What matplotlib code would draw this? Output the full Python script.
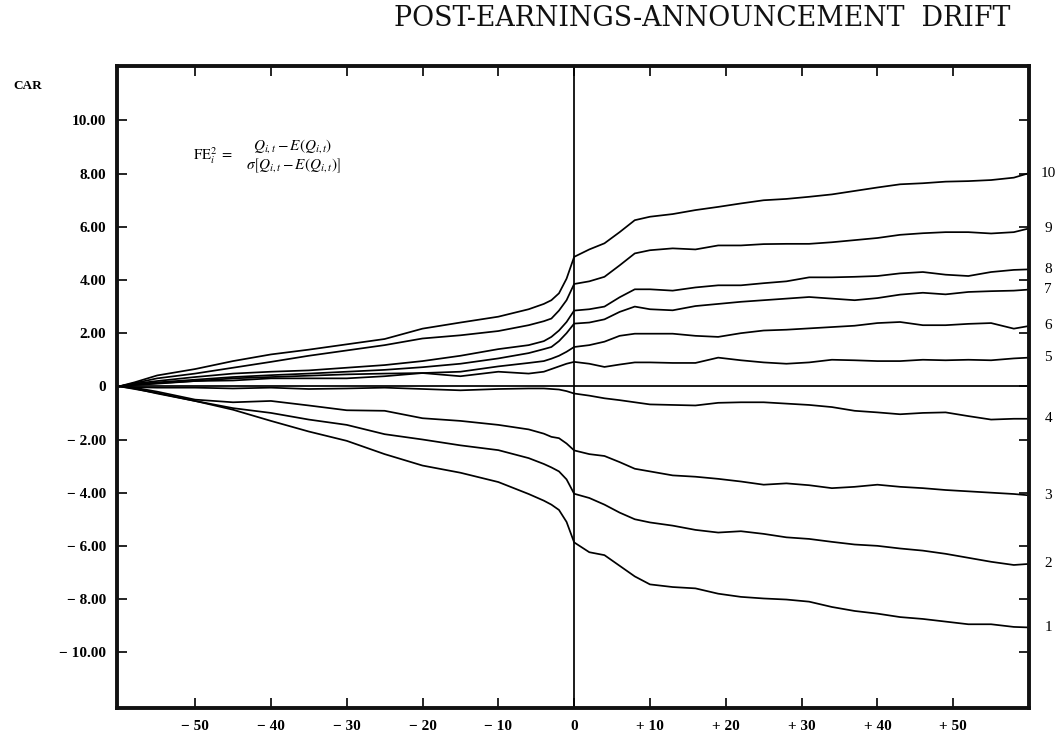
import matplotlib
matplotlib.use("Agg")
import matplotlib.pyplot as plt

# ---------------- data ----------------
days = [-60, -58, -55, -50, -45, -40, -35, -30, -25, -20, -15, -10, -6, -4, -3, -2, -1,
        0, 2, 4, 6, 8, 10, 13, 16, 19, 22, 25, 28, 31, 34, 37, 40, 43, 46, 49, 52, 55, 58, 60]

car_p10 = [0, 0.15, 0.41, 0.65, 0.95, 1.2, 1.38, 1.58, 1.78, 2.17, 2.4, 2.62, 2.9, 3.1, 3.24, 3.5, 4.05,
           4.87, 5.15, 5.38, 5.8, 6.25, 6.38, 6.48, 6.63, 6.75, 6.88, 7.0, 7.05, 7.13, 7.22, 7.35, 7.48,
           7.6, 7.64, 7.7, 7.72, 7.76, 7.85, 8.02]
car_p9 = [0, 0.12, 0.3, 0.48, 0.7, 0.92, 1.15, 1.35, 1.55, 1.8, 1.92, 2.08, 2.3, 2.45, 2.55, 2.85, 3.24,
          3.85, 3.95, 4.12, 4.55, 5.0, 5.12, 5.19, 5.15, 5.3, 5.3, 5.35, 5.36, 5.36, 5.42, 5.5, 5.58,
          5.7, 5.76, 5.8, 5.8, 5.75, 5.8, 5.94]
car_p8 = [0, 0.1, 0.2, 0.35, 0.48, 0.55, 0.6, 0.7, 0.8, 0.95, 1.15, 1.4, 1.55, 1.7, 1.86, 2.1, 2.42,
          2.85, 2.9, 3.0, 3.35, 3.65, 3.65, 3.6, 3.72, 3.8, 3.8, 3.88, 3.95, 4.1, 4.1, 4.12, 4.15,
          4.25, 4.3, 4.2, 4.15, 4.3, 4.38, 4.4]
car_p7 = [0, 0.08, 0.15, 0.25, 0.35, 0.42, 0.48, 0.55, 0.62, 0.72, 0.85, 1.05, 1.25, 1.4, 1.48, 1.7, 2.0,
          2.36, 2.4, 2.52, 2.8, 3.0, 2.9, 2.86, 3.02, 3.1, 3.18, 3.24, 3.3, 3.36, 3.3, 3.24, 3.32,
          3.45, 3.52, 3.46, 3.55, 3.58, 3.6, 3.64]
car_p6 = [0, 0.06, 0.12, 0.2, 0.3, 0.35, 0.4, 0.45, 0.48, 0.5, 0.55, 0.75, 0.88, 0.95, 1.04, 1.15, 1.3,
          1.48, 1.55, 1.68, 1.9, 1.98, 1.98, 1.98, 1.9, 1.86, 2.0, 2.1, 2.13, 2.18, 2.23, 2.28, 2.38,
          2.42, 2.3, 2.3, 2.35, 2.38, 2.17, 2.27]
car_p5 = [0, 0.05, 0.1, 0.2, 0.22, 0.3, 0.3, 0.3, 0.38, 0.5, 0.38, 0.55, 0.48, 0.55, 0.65, 0.75, 0.85,
          0.92, 0.85, 0.73, 0.82, 0.9, 0.9, 0.88, 0.88, 1.08, 0.98, 0.9, 0.85, 0.9, 1.0, 0.98, 0.95,
          0.95, 1.0, 0.98, 1.0, 0.98, 1.05, 1.08]
car_p4 = [0, -0.03, -0.05, -0.05, -0.08, -0.05, -0.1, -0.08, -0.05, -0.1, -0.15, -0.1, -0.08, -0.08, -0.1, -0.12, -0.18,
          -0.27, -0.35, -0.45, -0.52, -0.6, -0.68, -0.7, -0.72, -0.62, -0.6, -0.6, -0.65, -0.7, -0.78, -0.92, -0.98,
          -1.05, -1.0, -0.98, -1.12, -1.25, -1.22, -1.22]
car_p3 = [0, -0.05, -0.2, -0.5, -0.6, -0.55, -0.72, -0.9, -0.92, -1.2, -1.3, -1.45, -1.62, -1.78, -1.9, -1.95, -2.15,
          -2.41, -2.55, -2.62, -2.85, -3.1, -3.2, -3.35, -3.4, -3.48, -3.58, -3.7, -3.65, -3.72, -3.83, -3.78, -3.7,
          -3.78, -3.83, -3.9, -3.95, -4.0, -4.05, -4.1]
car_p2 = [0, -0.08, -0.27, -0.55, -0.82, -1.0, -1.25, -1.45, -1.8, -2.0, -2.22, -2.4, -2.7, -2.92, -3.05, -3.2, -3.5,
          -4.04, -4.2, -4.45, -4.75, -5.0, -5.12, -5.24, -5.4, -5.5, -5.45, -5.55, -5.68, -5.74, -5.85, -5.95, -6.0,
          -6.1, -6.18, -6.3, -6.45, -6.6, -6.72, -6.68]
car_p1 = [0, -0.1, -0.25, -0.55, -0.88, -1.3, -1.7, -2.05, -2.55, -2.98, -3.25, -3.6, -4.05, -4.3, -4.45, -4.65, -5.1,
          -5.87, -6.24, -6.35, -6.75, -7.15, -7.45, -7.55, -7.6, -7.8, -7.92, -7.98, -8.02, -8.1, -8.3, -8.45, -8.55,
          -8.68, -8.75, -8.85, -8.95, -8.95, -9.05, -9.07]

portfolio_labels = ["1", "2", "3", "4", "5", "6", "7", "8", "9", "10"]
series = [car_p1, car_p2, car_p3, car_p4, car_p5, car_p6, car_p7, car_p8, car_p9, car_p10]

x_ticks = [-50, -40, -30, -20, -10, 0, 10, 20, 30, 40, 50]
x_tick_labels = ["\u2212 50", "\u2212 40", "\u2212 30", "\u2212 20", "\u2212 10", "0",
                 "+ 10", "+ 20", "+ 30", "+ 40", "+ 50"]
y_ticks = [10, 8, 6, 4, 2, 0, -2, -4, -6, -8, -10]
y_tick_labels = ["10.00", "8.00", "6.00", "4.00", "2.00", "0", "\u2212 2.00", "\u2212 4.00",
                 "\u2212 6.00", "\u2212 8.00", "\u2212 10.00"]

title_text = "POST-EARNINGS-ANNOUNCEMENT  DRIFT"
ylabel_text = "CAR"

# ---------------- plotting ----------------
plt.rcParams["font.family"] = ["Liberation Serif", "DejaVu Serif"]
plt.rcParams["mathtext.fontset"] = "stix"

W, H = 1060, 734
fig = plt.figure(figsize=(W / 100, H / 100), dpi=100)
left, right, top, bottom = 117, 1029, 66, 708
ax = fig.add_axes([left / W, 1 - bottom / H, (right - left) / W, (bottom - top) / H])

for vals in series:
    ax.plot(days, vals, color="black", lw=1.25, solid_joinstyle="round")

ax.axhline(0, color="black", lw=1.25)
ax.axvline(0, color="black", lw=1.25)

ax.set_xlim(-60.3, 60)
ax.set_ylim(-12.1, 12.05)

ax.set_xticks(x_ticks)
ax.set_xticklabels(x_tick_labels)
ax.set_yticks(y_ticks)
ax.set_yticklabels(y_tick_labels)

for lab in ax.get_xticklabels() + ax.get_yticklabels():
    lab.set_fontweight("bold")

ax.tick_params(axis="both", direction="in", length=7, width=1.2, top=True, right=True,
               labelsize=11, colors="black")
ax.tick_params(axis="y", pad=8)
ax.tick_params(axis="x", pad=9)

for sp in ax.spines.values():
    sp.set_linewidth(2.8)
    sp.set_color("#111111")

# portfolio labels at the right end
for lab, vals in zip(portfolio_labels, series):
    ax.text(1.021, vals[-1], lab, transform=ax.get_yaxis_transform(),
            ha="center", va="center", fontsize=11, color="black")

# title and axis label
fig.text(702 / W, 1 - 19 / H, title_text, ha="center", va="center",
         fontsize=19.3, color="#111111", family=["DejaVu Serif"])
fig.text(28 / W, 1 - 86 / H, ylabel_text, ha="center", va="center",
         fontsize=9.5, fontweight="bold")

# formula (stacked, as in the reference)
fig.text(213 / W, 1 - 156 / H, r"$\mathrm{FE}_i^2\ =$", ha="center", va="center", fontsize=10.5)
fig.text(293 / W, 1 - 146 / H, r"$Q_{i,t} - E(Q_{i,t})$", ha="center", va="center", fontsize=11)
fig.text(293 / W, 1 - 166 / H, r"$\sigma\left[Q_{i,t} - E(Q_{i,t})\right]$", ha="center",
         va="center", fontsize=11)

fig.savefig("out.png", dpi=100)
